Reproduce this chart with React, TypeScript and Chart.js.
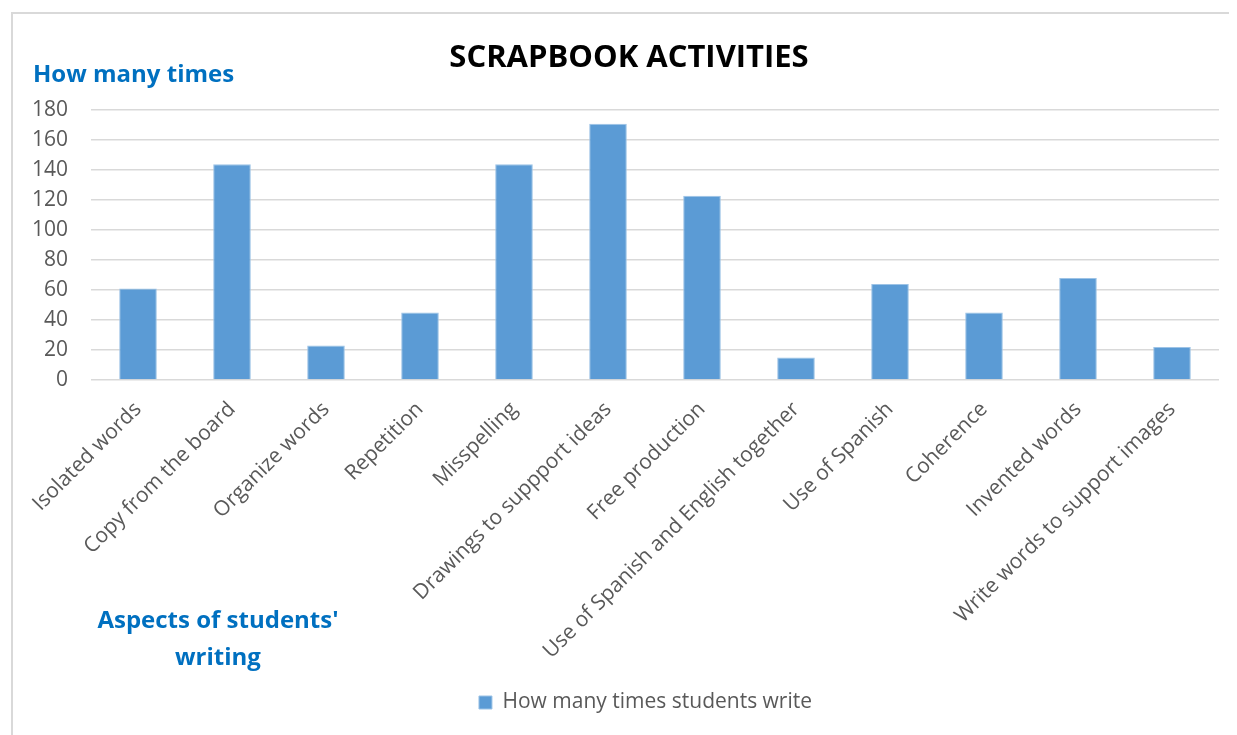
import React, { useEffect, useRef } from "react";
import { Chart, registerables } from "chart.js";

Chart.register(...registerables);

const categories = [
  "Isolated words",
  "Copy from the board",
  "Organize words",
  "Repetition",
  "Misspelling",
  "Drawings to suppport ideas",
  "Free production",
  "Use of Spanish and English together",
  "Use of Spanish",
  "Coherence",
  "Invented words",
  "Write words to support images",
];
const counts = [61, 144, 23, 45, 144, 171, 123, 15, 64, 45, 68, 22];
const yMin = 0;
const yMax = 180;
const yStep = 20;
const seriesLabel = "How many times students write";
const chartTitle = "SCRAPBOOK ACTIVITIES";
const yAxisTitle = "How many times";
const xAxisTitleLines = ["Aspects of students'", "writing"];

const W = 1229;
const H = 727;

const framePlugin = {
  id: "frame",
  beforeDraw(chart: any) {
    const ctx = chart.ctx;
    ctx.save();
    ctx.strokeStyle = "#D9D9D9";
    ctx.lineWidth = 2;
    ctx.beginPath();
    ctx.moveTo(4, chart.height);
    ctx.lineTo(4, 5);
    ctx.lineTo(chart.width, 5);
    ctx.stroke();
    ctx.restore();
  },
};

const axisTitlesPlugin = {
  id: "axisTitles",
  afterLayout(chart: any) {
    // shift title and legend blocks to match the original centring
    if (chart.titleBlock) chart.titleBlock.left += 31;
    if (chart.legend) chart.legend.left += 64;
  },
  afterDraw(chart: any) {
    const ctx = chart.ctx;
    ctx.save();
    ctx.fillStyle = "#0070C0";
    ctx.font = "bold 24px 'Open Sans'";
    ctx.textBaseline = "alphabetic";
    ctx.textAlign = "left";
    ctx.fillText(yAxisTitle, 25, 74);
    ctx.textAlign = "center";
    ctx.fillText(xAxisTitleLines[0], 210, 620);
    ctx.fillText(xAxisTitleLines[1], 210, 657);
    ctx.restore();
  },
};

export default function App() {
  const canvasRef = useRef<HTMLCanvasElement | null>(null);

  useEffect(() => {
    document.documentElement.style.overflow = "hidden";
    document.body.style.overflow = "hidden";
    if (!canvasRef.current) return;
    const chart = new Chart(canvasRef.current, {
      type: "bar",
      data: {
        labels: categories,
        datasets: [
          {
            label: seriesLabel,
            data: counts,
            backgroundColor: "#5B9BD5",
            borderColor: "#9DC3E6",
            borderWidth: 1,
            barPercentage: 0.4,
            categoryPercentage: 1,
          },
        ],
      },
      options: {
        responsive: false,
        animation: false,
        layout: { padding: { left: 0, right: 18, top: 0, bottom: 12 } },
        plugins: {
          title: {
            display: true,
            text: chartTitle,
            color: "#000000",
            font: { family: "'Open Sans'", size: 31, weight: "bold" },
            padding: { top: 32, bottom: 33 },
          },
          legend: {
            display: true,
            position: "bottom",
            labels: {
              color: "#595959",
              font: { family: "'Open Sans'", size: 21 },
              boxWidth: 13,
              boxHeight: 13,
              padding: 10,
            },
          },
          tooltip: { enabled: false },
        },
        scales: {
          x: {
            grid: { display: false },
            border: { display: false },
            ticks: {
              color: "#595959",
              font: { family: "'Open Sans'", size: 21 },
              minRotation: 45,
              maxRotation: 45,
              autoSkip: false,
              padding: 9,
            },
            afterFit(scale: any) {
              scale.height = 302;
              scale.paddingLeft = 0;
              scale.paddingRight = 0;
            },
          },
          y: {
            min: yMin,
            max: yMax,
            grid: { color: "#D9D9D9", lineWidth: 1.5, drawTicks: false },
            border: { display: false },
            ticks: {
              stepSize: yStep,
              color: "#595959",
              font: { family: "'Open Sans'", size: 21 },
              padding: 23,
            },
            afterFit(scale: any) {
              scale.width = 83;
            },
          },
        },
      },
      plugins: [framePlugin, axisTitlesPlugin],
    } as any);
    return () => chart.destroy();
  }, []);

  return (
    <div style={{ position: "relative", width: W, height: H, overflow: "hidden" }}>
      <canvas
        ref={canvasRef}
        width={W}
        height={H}
        style={{ position: "absolute", left: 0, top: 0, display: "block" }}
      />
    </div>
  );
}
